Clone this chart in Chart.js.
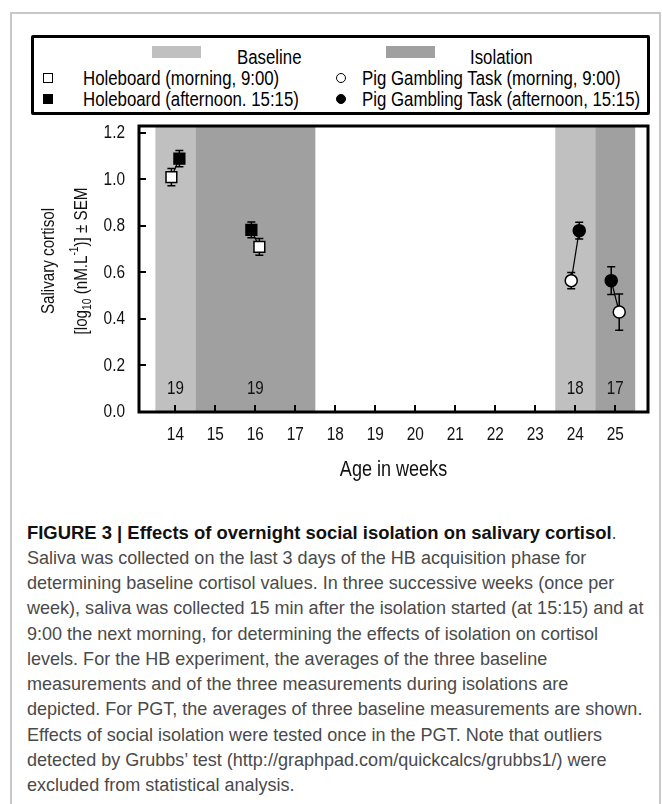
<!DOCTYPE html>
<html><head><meta charset="utf-8">
<script src="https://cdn.jsdelivr.net/npm/chart.js@4.4.1/dist/chart.umd.min.js"></script>
<style>
html,body{margin:0;padding:0;background:#fff;width:662px;height:804px;overflow:hidden;position:relative;}
#frame{position:absolute;left:10px;top:12px;width:651px;height:830px;border:2px solid #c8c8c8;box-sizing:border-box;}
#legendBox{position:absolute;left:31px;top:35px;width:619px;height:80px;border:3px solid #000;box-sizing:border-box;border-radius:2px;}
.lg{position:absolute;white-space:nowrap;font-family:'Liberation Sans',Arial,sans-serif;font-size:20.5px;line-height:22px;height:22px;color:#000;transform:scaleX(0.82);transform-origin:0 50%;}
.sw{position:absolute;height:12px;width:49px;}
.mk{position:absolute;box-sizing:border-box;border:1.5px solid #000;}
#chartWrap{position:absolute;left:0;top:0;width:662px;height:500px;}
.cap{position:absolute;left:27px;white-space:nowrap;font-family:'Liberation Sans',Arial,sans-serif;color:#4a4a4a;height:25.3px;line-height:25.3px;}
.cap b{color:#111;}
</style>
</head>
<body>
<div id="frame"></div>
<div id="legendBox"></div>
<div id="legendItems"></div>
<div id="chartWrap"><canvas id="c"></canvas></div>
<div id="caption"></div>
<script>
// ---------- data ----------
const xTickWeeks = [14, 15, 16, 17, 18, 19, 20, 21, 22, 23, 24, 25];
const yTickValues = [0, 0.2, 0.4, 0.6, 0.8, 1.0, 1.2];
const phaseNames = ['Baseline', 'Isolation'];
const bandStart = [13.5, 14.5, 23.5, 24.5];
const bandEnd = [14.5, 17.5, 24.5, 25.5];
const bandPhase = [0, 1, 0, 1];
const hbWeeks = [14, 16];
const hbMorning = [1.01, 0.71];
const hbMorningSem = [0.037, 0.036];
const hbAfternoon = [1.09, 0.783];
const hbAfternoonSem = [0.035, 0.034];
const pgtWeeks = [24, 25];
const pgtMorning = [0.565, 0.43];
const pgtMorningSem = [0.035, 0.078];
const pgtAfternoon = [0.78, 0.565];
const pgtAfternoonSem = [0.036, 0.06];
const nWeeks = [14, 16, 24, 25];
const nAnimals = [19, 19, 18, 17];
const seriesNames = ['Holeboard (morning, 9:00)', 'Holeboard (afternoon. 15:15)',
  'Pig Gambling Task (morning, 9:00)', 'Pig Gambling Task (afternoon, 15:15)'];
const yTitle1 = 'Salivary cortisol';
const xTitle = 'Age in weeks';
const captionHead = 'FIGURE 3 | Effects of overnight social isolation on salivary cortisol';
const captionLines = [
  'Saliva was collected on the last 3 days of the HB acquisition phase for',
  'determining baseline cortisol values. In three successive weeks (once per',
  'week), saliva was collected 15 min after the isolation started (at 15:15) and at',
  '9:00 the next morning, for determining the effects of isolation on cortisol',
  'levels. For the HB experiment, the averages of the three baseline',
  'measurements and of the three measurements during isolations are',
  'depicted. For PGT, the averages of three baseline measurements are shown.',
  'Effects of social isolation were tested once in the PGT. Note that outliers',
  'detected by Grubbs\u2019 test (http://graphpad.com/quickcalcs/grubbs1/) were',
  'excluded from statistical analysis.'
];

// ---------- style ----------
const SANS = '"Liberation Sans", Arial, sans-serif';
const NARROW_X = 0.82;
const bandColors = ['#c0c0c0', '#a0a0a0'];
const DODGE = 0.1;
// which session is drawn left of the week centre (-1 = left)
const hbMorningSide = [-1, 1];
const pgtMorningSide = [-1, 1];

function pts(weeks, vals, sides, sign) {
  return weeks.map((w, i) => ({x: w + sign * sides[i] * DODGE, y: vals[i]}));
}
const hbM = pts(hbWeeks, hbMorning, hbMorningSide, 1);
const hbA = pts(hbWeeks, hbAfternoon, hbMorningSide, -1);
const pgM = pts(pgtWeeks, pgtMorning, pgtMorningSide, 1);
const pgA = pts(pgtWeeks, pgtAfternoon, pgtMorningSide, -1);

const connectors = [];
[[hbM, hbA], [pgM, pgA]].forEach(([m, a]) => {
  m.forEach((p, i) => {
    connectors.push({type: 'line', data: [p, a[i]], borderColor: '#000', borderWidth: 1.2,
      pointRadius: 0, fill: false, order: 5});
  });
});

const markerSets = [
  {data: hbM, sem: hbMorningSem, pointStyle: 'rect', pointRadius: 7.6, pointBackgroundColor: '#fff'},
  {data: hbA, sem: hbAfternoonSem, pointStyle: 'rect', pointRadius: 7.6, pointBackgroundColor: '#000'},
  {data: pgM, sem: pgtMorningSem, pointStyle: 'circle', pointRadius: 6, pointBackgroundColor: '#fff'},
  {data: pgA, sem: pgtAfternoonSem, pointStyle: 'circle', pointRadius: 6, pointBackgroundColor: '#000'}
].map((d, i) => Object.assign({type: 'scatter', label: seriesNames[i], pointBorderColor: '#000',
  pointBorderWidth: 1.5, showLine: false, order: 1}, d));

function narrowText(ctx, text, px, py, align, size) {
  ctx.save();
  ctx.translate(px, py);
  ctx.scale(NARROW_X, 1);
  ctx.font = size + 'px ' + SANS;
  ctx.textAlign = align;
  ctx.textBaseline = 'middle';
  ctx.fillText(text, 0, 0);
  ctx.restore();
}

// ---------- plugins ----------
const decor = {
  id: 'decor',
  beforeDatasetsDraw(chart) {
    const {ctx, chartArea: ca, scales: {x, y}} = chart;
    ctx.save();
    bandStart.forEach((s, i) => {
      const x0 = x.getPixelForValue(s), x1 = x.getPixelForValue(bandEnd[i]);
      ctx.fillStyle = bandColors[bandPhase[i]];
      ctx.fillRect(x0, ca.top, x1 - x0, ca.bottom - ca.top);
    });
    ctx.strokeStyle = '#000';
    ctx.lineWidth = 1.5;
    chart.data.datasets.forEach(ds => {
      if (!ds.sem) return;
      ds.data.forEach((p, i) => {
        const px = x.getPixelForValue(p.x);
        const yt = y.getPixelForValue(p.y + ds.sem[i]);
        const yb = y.getPixelForValue(p.y - ds.sem[i]);
        ctx.beginPath();
        ctx.moveTo(px, yt); ctx.lineTo(px, yb);
        ctx.moveTo(px - 4, yt); ctx.lineTo(px + 4, yt);
        ctx.moveTo(px - 4, yb); ctx.lineTo(px + 4, yb);
        ctx.stroke();
      });
    });
    ctx.fillStyle = '#111';
    nWeeks.forEach((w, i) => narrowText(ctx, String(nAnimals[i]), x.getPixelForValue(w), y.getPixelForValue(0.1), 'center', 18.5));
    ctx.restore();
  },
  afterDraw(chart) {
    const {ctx, chartArea: ca, scales: {x, y}} = chart;
    ctx.save();
    ctx.strokeStyle = '#000';
    ctx.lineWidth = 2;
    ctx.beginPath();
    x.ticks.forEach(t => { const px = Math.round(x.getPixelForValue(t.value)); ctx.moveTo(px, ca.bottom); ctx.lineTo(px, ca.bottom - 7); });
    y.ticks.forEach(t => { const py = Math.round(y.getPixelForValue(t.value)); ctx.moveTo(ca.left, py); ctx.lineTo(ca.left + 7, py); });
    ctx.stroke();
    ctx.lineWidth = 3;
    ctx.strokeRect(ca.left, ca.top, ca.right - ca.left, ca.bottom - ca.top);
    // tick labels
    ctx.fillStyle = '#111';
    x.ticks.forEach(t => narrowText(ctx, String(t.value), x.getPixelForValue(t.value), ca.bottom + 23, 'center', 18.8));
    y.ticks.forEach(t => narrowText(ctx, Number(t.value).toFixed(1), ca.left - 14, y.getPixelForValue(t.value), 'right', 18.8));
    // x title
    narrowText(ctx, xTitle, (ca.left + ca.right) / 2, ca.bottom + 58, 'center', 22);
    // y title with sub/superscript
    const cy = (ca.top + ca.bottom) / 2 - 8;
    ctx.translate(49, cy);
    ctx.rotate(-Math.PI / 2);
    ctx.scale(NARROW_X, 1);
    ctx.textBaseline = 'middle';
    ctx.font = '18.5px ' + SANS;
    ctx.textAlign = 'center';
    ctx.fillText(yTitle1, 0, 0);
    const segs = [['[log', 0], ['10', 1], [' (nM.L', 0], ['-1', -1], [')] \u00b1 SEM', 0]];
    const fontFor = k => (k === 0 ? '18.5px ' : '12.5px ') + SANS;
    let total = 0;
    segs.forEach(([t, k]) => { ctx.font = fontFor(k); total += ctx.measureText(t).width; });
    let cx = -total / 2;
    ctx.textAlign = 'left';
    segs.forEach(([t, k]) => {
      ctx.font = fontFor(k);
      ctx.fillText(t, cx, 33 + (k === 1 ? 6 : k === -1 ? -7 : 0));
      cx += ctx.measureText(t).width;
    });
    ctx.restore();
  }
};

new Chart(document.getElementById('c'), {
  data: {datasets: connectors.concat(markerSets)},
  options: {
    responsive: true, maintainAspectRatio: false, animation: false, devicePixelRatio: 1,
    layout: {padding: {top: 126, right: 14, left: 0, bottom: 0}},
    plugins: {legend: {display: false}, tooltip: {enabled: false}},
    events: [],
    scales: {
      x: {type: 'linear', min: 13.09, max: 25.82,
        afterBuildTicks: s => { s.ticks = xTickWeeks.map(v => ({value: v})); },
        afterFit: s => { s.height = 88; },
        grid: {display: false}, border: {display: false},
        ticks: {display: false}},
      y: {type: 'linear', min: 0, max: 1.23,
        afterBuildTicks: s => { s.ticks = yTickValues.map(v => ({value: v})); },
        afterFit: s => { s.width = 139; },
        grid: {display: false}, border: {display: false},
        ticks: {display: false}}
    }
  },
  plugins: [decor]
});

// ---------- legend (HTML) ----------
const L = document.getElementById('legendItems');
function add(html) { L.insertAdjacentHTML('beforeend', html); }
add(`<div class="sw" style="left:152px;top:46px;background:${bandColors[0]}"></div>`);
add(`<div class="lg" style="left:237px;top:46px">${phaseNames[0]}</div>`);
add(`<div class="sw" style="left:386px;top:46px;background:${bandColors[1]}"></div>`);
add(`<div class="lg" style="left:470px;top:46px">${phaseNames[1]}</div>`);
add(`<div class="mk" style="left:43px;top:73px;width:10px;height:10px;background:#fff"></div>`);
add(`<div class="lg" style="left:83px;top:67px">${seriesNames[0]}</div>`);
add(`<div class="mk" style="left:43px;top:94px;width:10px;height:10px;background:#000"></div>`);
add(`<div class="lg" style="left:83px;top:88px">${seriesNames[1]}</div>`);
add(`<div class="mk" style="left:336px;top:73px;width:10px;height:10px;border-radius:50%;background:#fff"></div>`);
add(`<div class="lg" style="left:362px;top:67px">${seriesNames[2]}</div>`);
add(`<div class="mk" style="left:336px;top:94px;width:10px;height:10px;border-radius:50%;background:#000"></div>`);
add(`<div class="lg" style="left:362px;top:88px">${seriesNames[3]}</div>`);

// ---------- caption ----------
const C = document.getElementById('caption');
const mctx = document.createElement('canvas').getContext('2d');
mctx.font = '16px ' + SANS;
const longest = Math.max(...captionLines.map(t => mctx.measureText(t).width));
const bodySize = 16 * 617 / longest;
mctx.font = 'bold 16px ' + SANS;
const headSize = 16 * 585 / mctx.measureText(captionHead).width;
const LH = 25.3, TOP0 = 533 - LH / 2;
C.insertAdjacentHTML('beforeend', `<div class="cap" style="top:${TOP0}px;font-size:${headSize}px"><b>${captionHead}</b>.</div>`);
captionLines.forEach((t, i) => {
  C.insertAdjacentHTML('beforeend', `<div class="cap" style="top:${TOP0 + LH * (i + 1)}px;font-size:${bodySize}px">${t}</div>`);
});
</script>
</body></html>
